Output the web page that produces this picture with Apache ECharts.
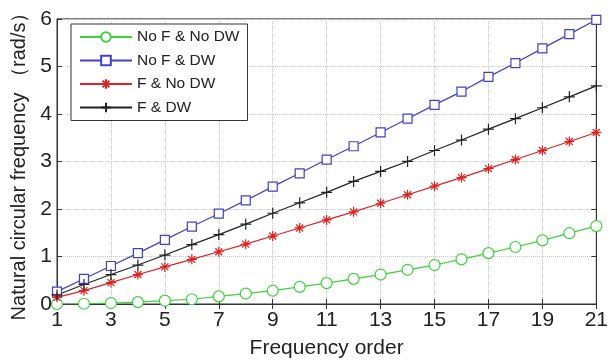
<!DOCTYPE html>
<html><head><meta charset="utf-8">
<script src="https://cdn.jsdelivr.net/npm/echarts@6/dist/echarts.min.js"></script>
<style>html,body{margin:0;padding:0;background:#fff}#c{width:611px;height:364px}</style>
</head><body><div id="c"></div>
<script>
const categories = ['1','2','3','4','5','6','7','8','9','10','11','12','13','14','15','16','17','18','19','20','21'];
const noFnoDW = [0.00,0.005,0.02,0.04,0.07,0.10,0.16,0.22,0.28,0.36,0.44,0.53,0.62,0.72,0.82,0.94,1.07,1.20,1.34,1.49,1.64];
const noFDW   = [0.26,0.53,0.80,1.07,1.35,1.63,1.90,2.18,2.47,2.75,3.04,3.32,3.61,3.90,4.19,4.47,4.78,5.07,5.38,5.68,5.98];
const fNoDW   = [0.14,0.28,0.45,0.62,0.78,0.94,1.10,1.26,1.43,1.60,1.77,1.94,2.12,2.30,2.48,2.66,2.85,3.04,3.23,3.42,3.61];
const fDW     = [0.19,0.41,0.62,0.82,1.03,1.25,1.46,1.68,1.91,2.13,2.35,2.58,2.79,3.00,3.23,3.45,3.68,3.90,4.13,4.36,4.59];
const yTicks = [0,1,2,3,4,5,6];

const FONT = 'Liberation Sans';
const asterisk = 'path://M5,0L5,10M0,5L10,5M1.5,1.5L8.5,8.5M1.5,8.5L8.5,1.5';
const plus = 'path://M5,0L5,10M0,5L10,5';

function mk(name, data, color, symbol, size, extra) {
  return Object.assign({
    name, type: 'line', data, symbol, symbolSize: size, showAllSymbol: true,
    lineStyle: { color, width: 1.2 },
    itemStyle: { color: symbol.startsWith('path') ? color : '#fff', borderColor: color, borderWidth: 1.2 },
    emphasis: { disabled: true }, animation: false, z: 3
  }, extra || {});
}

const chart = echarts.init(document.getElementById('c'));
chart.setOption({
  animation: false,
  grid: { left: 57, right: 14, top: 14, bottom: 59, show: true, borderColor: '#333', borderWidth: 1 },
  legend: {
    orient: 'vertical', left: 71, top: 24, itemWidth: 52, itemHeight: 12, itemGap: 7.5,
    padding: [5, 8, 5, 8], backgroundColor: '#fff', borderColor: '#333', borderWidth: 1,
    textStyle: { fontFamily: FONT, fontSize: 15.5, color: '#222' },
    data: ['No F & No DW', 'No F & DW', 'F & No DW', 'F & DW']
  },
  xAxis: [{
    type: 'category', data: categories, boundaryGap: false,
    name: 'Frequency order', nameLocation: 'middle', nameGap: 34,
    nameTextStyle: { fontFamily: FONT, fontSize: 21, color: '#222' },
    axisLine: { lineStyle: { color: '#333' } },
    axisTick: { inside: true, length: 5, interval: 1, lineStyle: { color: '#333' } },
    axisLabel: { interval: 1, fontFamily: FONT, fontSize: 21, color: '#222', margin: 6 },
    splitLine: { show: true, interval: 1, lineStyle: { color: '#c8c8c8', type: 'dotted' } }
  }, {
    type: 'category', data: categories, boundaryGap: false, position: 'top',
    axisLine: { lineStyle: { color: '#333' } },
    axisTick: { inside: true, length: 5, interval: 1, lineStyle: { color: '#333' } },
    axisLabel: { show: false }, splitLine: { show: false }
  }],
  yAxis: [{
    type: 'value', min: yTicks[0], max: yTicks[yTicks.length - 1], interval: 1,
    name: 'Natural circular frequency （rad/s）', nameLocation: 'middle', nameGap: 24,
    nameTextStyle: { fontFamily: FONT, fontSize: 20, color: '#222' },
    axisLine: { show: true, lineStyle: { color: '#333' } },
    axisTick: { show: true, inside: true, length: 5, lineStyle: { color: '#333' } },
    axisLabel: { fontFamily: FONT, fontSize: 21, color: '#222', margin: 5 },
    splitLine: { show: true, lineStyle: { color: '#c8c8c8', type: 'dotted' } }
  }, {
    type: 'value', min: yTicks[0], max: yTicks[yTicks.length - 1], interval: 1, position: 'right',
    axisLine: { show: true, lineStyle: { color: '#333' } },
    axisTick: { show: true, inside: true, length: 5, lineStyle: { color: '#333' } },
    axisLabel: { show: false }, splitLine: { show: false }
  }],
  series: [
    mk('No F & No DW', noFnoDW, '#3cd23c', 'circle', 11),
    mk('No F & DW', noFDW, '#4040c8', 'rect', 9),
    mk('F & No DW', fNoDW, '#dd2222', asterisk, 10),
    mk('F & DW', fDW, '#222222', plus, 11)
  ]
});
</script></body></html>
